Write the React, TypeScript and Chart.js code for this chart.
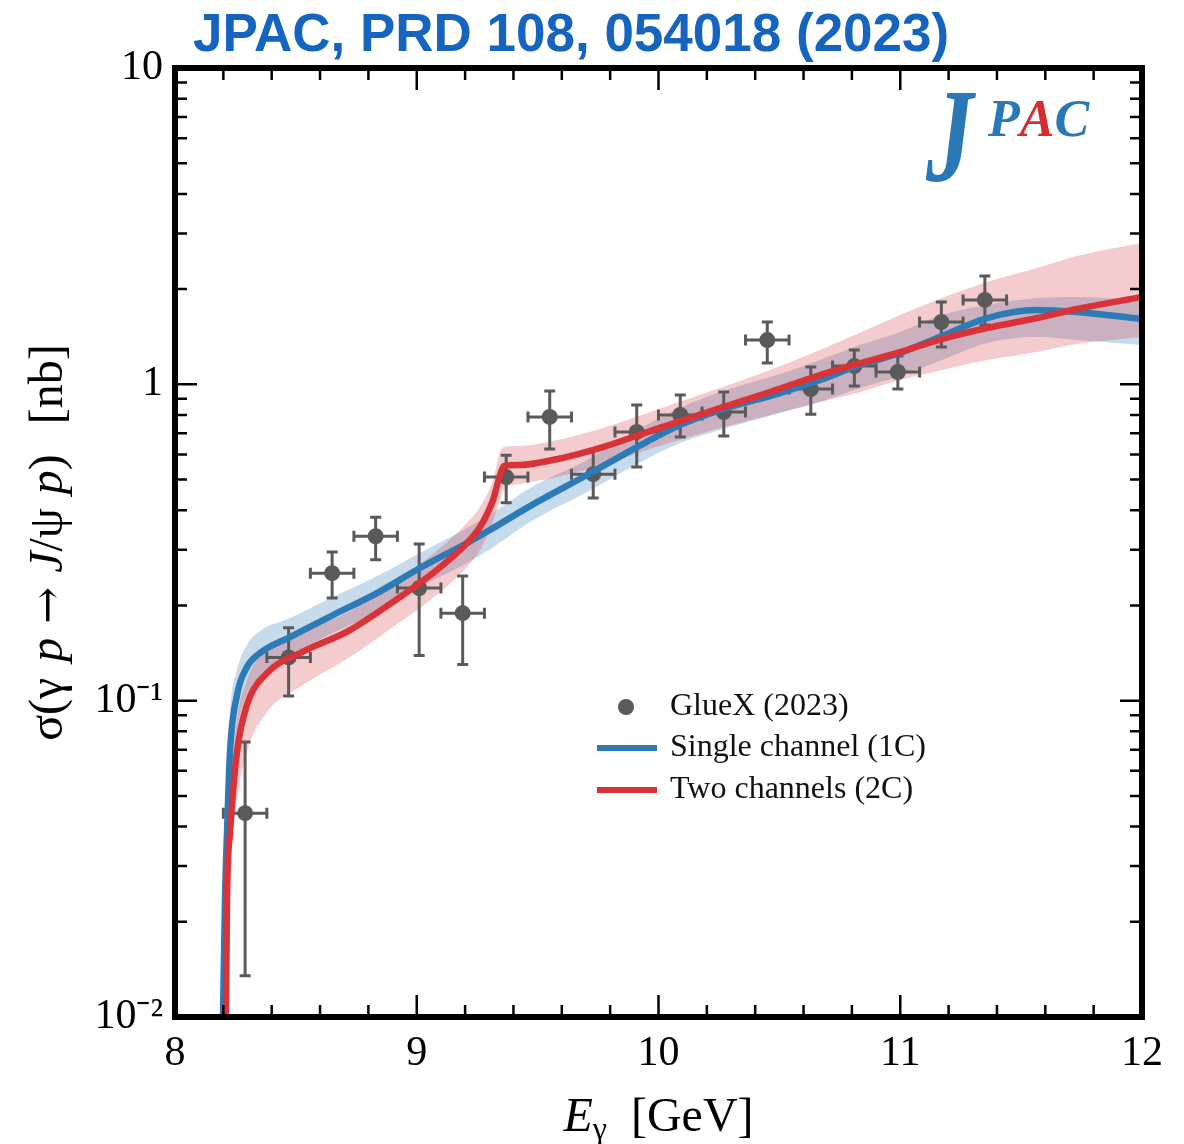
import React, { useEffect, useRef } from "react";
import { Chart, registerables } from "chart.js";

Chart.register(...registerables);

// ---------- Data ----------
// Single channel (1C) curve and its band
const blueX = [8.1986, 8.2068, 8.2151, 8.2275, 8.2565, 8.2978, 8.3516, 8.4757, 8.6536, 8.8356, 9.0134, 9.2079, 9.3154, 9.4685, 9.7043, 9.9111, 10.0889, 10.2544, 10.5026, 10.668, 10.8211, 10.999, 11.1727, 11.3589, 11.5657, 11.7311, 12.0];
const blueY = [0.01, 0.02342, 0.03815, 0.0688, 0.1041, 0.1277, 0.1414, 0.1589, 0.1865, 0.2189, 0.2626, 0.315, 0.3512, 0.4123, 0.5168, 0.6335, 0.7437, 0.8293, 0.9387, 1.0318, 1.1427, 1.256, 1.4213, 1.6204, 1.7175, 1.6923, 1.6085];
const blueUp = [0.0115, 0.02914, 0.05218, 0.09006, 0.1249, 0.1499, 0.166, 0.1825, 0.2126, 0.2477, 0.2929, 0.3512, 0.3925, 0.47, 0.5764, 0.7168, 0.8415, 0.9456, 1.078, 1.1934, 1.3214, 1.4634, 1.6563, 1.781, 1.8743, 1.888, 1.8471];
const blueLow = [0.0085, 0.0175, 0.02709, 0.0485, 0.0807, 0.1041, 0.1204, 0.1394, 0.1636, 0.1906, 0.2287, 0.2723, 0.3055, 0.3671, 0.4566, 0.5598, 0.6522, 0.7168, 0.8116, 0.879, 0.9663, 1.0622, 1.1934, 1.3508, 1.4109, 1.3806, 1.3312];

// Two channels (2C) curve and its band
const redX = [8.211, 8.2151, 8.2275, 8.2565, 8.2978, 8.3806, 8.5171, 8.7239, 8.9307, 9.0672, 9.2079, 9.2616, 9.3154, 9.3444, 9.3609, 9.4271, 9.5636, 9.7704, 9.9773, 10.2544, 10.4612, 10.668, 10.8211, 10.999, 11.1727, 11.3589, 11.5657, 11.7311, 12.0];
const redY = [0.01, 0.02342, 0.03815, 0.0688, 0.09685, 0.1223, 0.1414, 0.1672, 0.2126, 0.2531, 0.315, 0.3539, 0.4307, 0.5168, 0.5516, 0.5557, 0.5764, 0.6335, 0.7168, 0.8415, 0.9456, 1.07, 1.1593, 1.265, 1.3907, 1.5066, 1.6204, 1.7302, 1.888];
const redUp = [0.0115, 0.02709, 0.04677, 0.0868, 0.1162, 0.1466, 0.1636, 0.192, 0.2441, 0.2908, 0.3643, 0.4094, 0.4983, 0.6109, 0.6335, 0.638, 0.6617, 0.7273, 0.8234, 0.9734, 1.1096, 1.2833, 1.4421, 1.6563, 1.8743, 2.1055, 2.3322, 2.5446, 2.7974];
const redLow = [0.0085, 0.01883, 0.02914, 0.0485, 0.0688, 0.092, 0.1104, 0.1373, 0.1772, 0.2111, 0.2646, 0.2994, 0.3671, 0.4307, 0.4632, 0.4841, 0.5057, 0.5557, 0.629, 0.7273, 0.7998, 0.879, 0.9387, 1.0318, 1.1096, 1.1934, 1.265, 1.3407, 1.4109];

// GlueX (2023) data
const dataX = [8.29, 8.47, 8.65, 8.83, 9.01, 9.19, 9.37, 9.55, 9.73, 9.91, 10.09, 10.27, 10.45, 10.63, 10.81, 10.99, 11.17, 11.35];
const dataY = [0.0441, 0.137, 0.253, 0.331, 0.227, 0.189, 0.509, 0.789, 0.52, 0.707, 0.8, 0.817, 1.38, 0.966, 1.142, 1.094, 1.574, 1.848];
const dataYLow = [0.0135, 0.1035, 0.211, 0.279, 0.139, 0.13, 0.422, 0.624, 0.437, 0.548, 0.681, 0.687, 1.167, 0.805, 0.988, 0.966, 1.312, 1.54];
const dataYHigh = [0.074, 0.17, 0.295, 0.38, 0.313, 0.248, 0.597, 0.953, 0.62, 0.86, 0.925, 0.946, 1.574, 1.134, 1.283, 1.229, 1.82, 2.2];
const dataXErr = [0.09, 0.09, 0.09, 0.09, 0.09, 0.09, 0.09, 0.09, 0.09, 0.09, 0.09, 0.09, 0.09, 0.09, 0.09, 0.09, 0.09, 0.09];

// Axes
const xMin = 8;
const xMax = 12;
const xMajorStep = 1;
const xMinorStep = 0.2;
const yMin = 0.01;
const yMax = 10;
const yTicks = [0.01, 0.1, 1, 10];
const yTickLabels = ["10⁻²", "10⁻¹", "1", "10"];

const titleText = "JPAC, PRD 108, 054018 (2023)";
const legendLabels = ["GlueX (2023)", "Single channel (1C)", "Two channels (2C)"];

// ---------- Styles ----------
const BLUE = "#2c7bb6";
const RED = "#d9333a";
const BLUE_BAND = "rgba(44,123,182,0.27)";
const RED_BAND = "rgba(217,51,58,0.25)";
const GRAY = "#5a5a5a";
const SERIF = "'Liberation Serif', 'Times New Roman', serif";
const SANS = "'Liberation Sans', Arial, sans-serif";

const zip = (xs: number[], ys: number[]) => xs.map((x, i) => ({ x, y: ys[i] }));

const errorBarPlugin = {
  id: "errorBars",
  beforeDatasetDraw(chart: any, args: any) {
    if (args.index !== 4) return;
    const { ctx, chartArea, scales } = chart;
    const xs = scales.x;
    const ys = scales.y;
    ctx.save();
    ctx.beginPath();
    ctx.rect(chartArea.left, chartArea.top, chartArea.right - chartArea.left, chartArea.bottom - chartArea.top);
    ctx.clip();
    ctx.strokeStyle = GRAY;
    ctx.lineWidth = 3;
    const cap = 5.5;
    dataX.forEach((xv, i) => {
      const px = xs.getPixelForValue(xv);
      const py = ys.getPixelForValue(dataY[i]);
      const pyLo = ys.getPixelForValue(dataYLow[i]);
      const pyHi = ys.getPixelForValue(dataYHigh[i]);
      const pxL = xs.getPixelForValue(xv - dataXErr[i]);
      const pxR = xs.getPixelForValue(xv + dataXErr[i]);
      ctx.beginPath();
      ctx.moveTo(px, pyLo);
      ctx.lineTo(px, pyHi);
      ctx.moveTo(px - cap, pyLo);
      ctx.lineTo(px + cap, pyLo);
      ctx.moveTo(px - cap, pyHi);
      ctx.lineTo(px + cap, pyHi);
      ctx.moveTo(pxL, py);
      ctx.lineTo(pxR, py);
      ctx.moveTo(pxL, py - cap);
      ctx.lineTo(pxL, py + cap);
      ctx.moveTo(pxR, py - cap);
      ctx.lineTo(pxR, py + cap);
      ctx.stroke();
    });
    ctx.restore();
  },
};

type Seg = { t: string; font: string; dy?: number; gap?: number };

function drawSegments(ctx: CanvasRenderingContext2D, segs: Seg[], cx: number, cy: number) {
  let total = 0;
  const widths = segs.map((s) => {
    ctx.font = s.font;
    const w = ctx.measureText(s.t).width + (s.gap || 0);
    total += w;
    return w;
  });
  let x = cx - total / 2;
  segs.forEach((s, i) => {
    ctx.font = s.font;
    ctx.fillText(s.t, x, cy + (s.dy || 0));
    x += widths[i];
  });
}

const decorPlugin = {
  id: "decor",
  afterDraw(chart: any) {
    const { ctx, chartArea, scales } = chart;
    const xs = scales.x;
    const ys = scales.y;
    const { left, right, top, bottom } = chartArea;
    ctx.save();

    // ticks (inward, all four sides)
    ctx.strokeStyle = "#000";
    ctx.lineWidth = 2.5;
    const major = 22;
    const minor = 12;
    const nMinor = Math.round((xMax - xMin) / xMinorStep);
    for (let k = 0; k <= nMinor; k++) {
      const v = xMin + k * xMinorStep;
      const isMajor = Math.abs(v / xMajorStep - Math.round(v / xMajorStep)) < 1e-6;
      const len = isMajor ? major : minor;
      const px = xs.getPixelForValue(v);
      ctx.beginPath();
      ctx.moveTo(px, bottom);
      ctx.lineTo(px, bottom - len);
      ctx.moveTo(px, top);
      ctx.lineTo(px, top + len);
      ctx.stroke();
    }
    for (let d = -2; d <= 0; d++) {
      for (let m = 1; m <= 9; m++) {
        const v = m * Math.pow(10, d);
        const len = m === 1 ? major : minor;
        const py = ys.getPixelForValue(v);
        ctx.beginPath();
        ctx.moveTo(left, py);
        ctx.lineTo(left + len, py);
        ctx.moveTo(right, py);
        ctx.lineTo(right - len, py);
        ctx.stroke();
      }
    }
    // frame
    ctx.lineWidth = 6;
    ctx.strokeRect(left, top, right - left, bottom - top);

    // title
    ctx.fillStyle = "#1565c0";
    ctx.font = `bold 53px ${SANS}`;
    ctx.textAlign = "left";
    ctx.textBaseline = "alphabetic";
    ctx.fillText(titleText, 193, 51);

    // JPAC logo
    ctx.save();
    ctx.font = `bold italic 100px ${SERIF}`;
    ctx.fillStyle = "#2a78b5";
    ctx.translate(926, 181);
    ctx.scale(0.95, 1.33);
    ctx.fillText("J", 0, 0);
    ctx.restore();
    ctx.font = `bold italic 52px ${SERIF}`;
    let lx = 988;
    const logo = [
      ["P", "#2a78b5"],
      ["A", "#d62d30"],
      ["C", "#2a78b5"],
    ];
    logo.forEach(([ch, col]) => {
      ctx.fillStyle = col;
      ctx.fillText(ch, lx, 136);
      lx += ctx.measureText(ch).width;
    });

    // legend
    ctx.textBaseline = "middle";
    ctx.fillStyle = GRAY;
    ctx.beginPath();
    ctx.arc(626, 707, 8, 0, Math.PI * 2);
    ctx.fill();
    ctx.lineWidth = 6;
    ctx.strokeStyle = BLUE;
    ctx.beginPath();
    ctx.moveTo(597, 748);
    ctx.lineTo(657, 748);
    ctx.stroke();
    ctx.strokeStyle = RED;
    ctx.beginPath();
    ctx.moveTo(597, 790);
    ctx.lineTo(657, 790);
    ctx.stroke();
    ctx.fillStyle = "#111";
    ctx.font = `32px ${SERIF}`;
    ctx.fillText(legendLabels[0], 670, 707);
    ctx.fillText(legendLabels[1], 670, 748);
    ctx.fillText(legendLabels[2], 670, 790);

    // x axis title
    ctx.fillStyle = "#000";
    ctx.textBaseline = "alphabetic";
    const reg = `48px ${SERIF}`;
    const ital = `italic 48px ${SERIF}`;
    drawSegments(
      ctx,
      [
        { t: "E", font: ital },
        { t: "γ", font: `32px ${SERIF}`, dy: 8 },
        { t: "  [GeV]", font: reg },
      ],
      (left + right) / 2,
      1131
    );

    // y axis title
    ctx.save();
    ctx.translate(62, (top + bottom) / 2);
    ctx.rotate(-Math.PI / 2);
    drawSegments(
      ctx,
      [
        { t: "σ(γ", font: reg, gap: 16 },
        { t: "p", font: ital, gap: 14 },
        { t: "→", font: `44px 'DejaVu Serif', serif`, gap: 14 },
        { t: "J", font: ital },
        { t: "/ψ", font: reg, gap: 14 },
        { t: "p", font: ital },
        { t: ")", font: reg, gap: 30 },
        { t: "[nb]", font: reg },
      ],
      0,
      0
    );
    ctx.restore();

    ctx.restore();
  },
};

export default function App() {
  const canvasRef = useRef<HTMLCanvasElement | null>(null);

  useEffect(() => {
    if (!canvasRef.current) return;
    const common = { pointRadius: 0, cubicInterpolationMode: "monotone" as const };
    const chart = new Chart(canvasRef.current, {
      type: "line",
      data: {
        datasets: [
          { label: "blueLow", data: zip(blueX, blueLow), borderWidth: 0, borderColor: "transparent", fill: false, order: 6, ...common },
          { label: "blueUp", data: zip(blueX, blueUp), borderWidth: 0, borderColor: "transparent", backgroundColor: BLUE_BAND, fill: 0, order: 5, ...common },
          { label: "redLow", data: zip(redX, redLow), borderWidth: 0, borderColor: "transparent", fill: false, order: 4, ...common },
          { label: "redUp", data: zip(redX, redUp), borderWidth: 0, borderColor: "transparent", backgroundColor: RED_BAND, fill: 2, order: 3, ...common },
          {
            label: legendLabels[0],
            data: zip(dataX, dataY),
            showLine: false,
            pointRadius: 8,
            pointBackgroundColor: GRAY,
            pointBorderWidth: 0,
            pointBorderColor: GRAY,
            order: 2,
          },
          { label: legendLabels[1], data: zip(blueX, blueY), borderWidth: 6.5, borderColor: BLUE, fill: false, order: 1, ...common },
          { label: legendLabels[2], data: zip(redX, redY), borderWidth: 6.5, borderColor: RED, fill: false, order: 0, ...common },
        ],
      },
      options: {
        animation: false,
        responsive: false,
        events: [],
        layout: { padding: { top: 68, right: 42, left: 0, bottom: 0 } },
        plugins: {
          legend: { display: false },
          tooltip: { enabled: false },
          title: { display: false },
        },
        scales: {
          x: {
            type: "linear",
            min: xMin,
            max: xMax,
            ticks: {
              stepSize: xMajorStep,
              padding: 12,
              color: "#000",
              font: { family: SERIF, size: 42 },
              callback: (v: any) => String(v),
            },
            grid: { display: false, drawTicks: false },
            border: { display: false },
            afterFit: (s: any) => {
              s.height = 127;
            },
          },
          y: {
            type: "logarithmic",
            min: yMin,
            max: yMax,
            afterBuildTicks: (s: any) => {
              s.ticks = yTicks.map((v) => ({ value: v }));
            },
            ticks: {
              padding: 12,
              color: "#000",
              font: { family: SERIF, size: 42 },
              callback: (v: any) => {
                const i = yTicks.findIndex((t) => Math.abs(Math.log10(t) - Math.log10(v)) < 1e-6);
                return i >= 0 ? yTickLabels[i] : "";
              },
            },
            grid: { display: false, drawTicks: false },
            border: { display: false },
            afterFit: (s: any) => {
              s.width = 175;
            },
          },
        },
      },
      plugins: [errorBarPlugin, decorPlugin],
    });
    return () => chart.destroy();
  }, []);

  return (
    <div style={{ position: "absolute", left: 0, top: 0, width: 1184, height: 1144, background: "#fff" }}>
      <canvas ref={canvasRef} width={1184} height={1144} style={{ display: "block", width: 1184, height: 1144 }} />
    </div>
  );
}
